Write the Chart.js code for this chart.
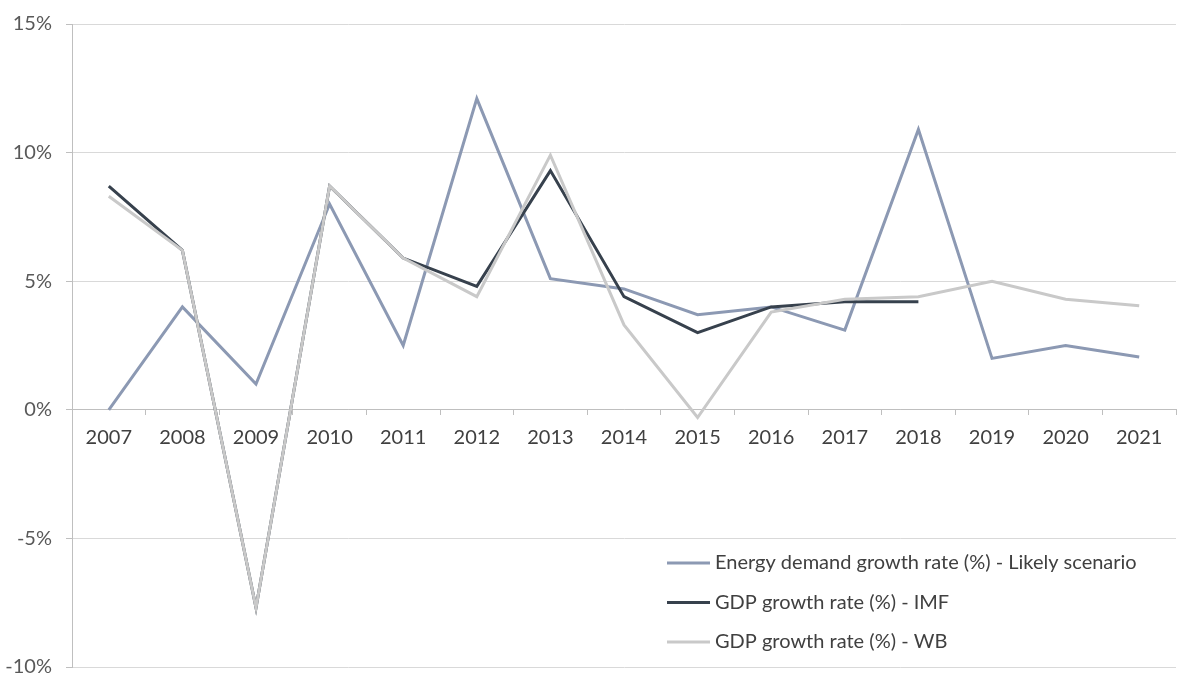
<!DOCTYPE html>
<html lang="en">
<head>
    <meta charset="UTF-8">
    <title>Energy demand vs GDP growth</title>
    <script src="https://cdn.jsdelivr.net/npm/chart.js"></script>
    <style>
        body { margin: 0; background: #ffffff; overflow: hidden; }
        .grafico { position: relative; width: 1182px; height: 691px; }
    </style>
</head>
<body>
    <div class="grafico">
        <canvas id="crescimentoChart"></canvas>
    </div>

    <script>
// === dados ===
const anos = ['2007', '2008', '2009', '2010', '2011', '2012', '2013', '2014', '2015', '2016', '2017', '2018', '2019', '2020', '2021'];
const energia = [0, 4.0, 1.0, 8.0, 2.5, 12.1, 5.1, 4.7, 3.7, 4.0, 3.1, 10.9, 2.0, 2.5, 2.05];
const pibFMI = [8.7, 6.2, -7.7, 8.7, 5.9, 4.8, 9.3, 4.4, 3.0, 4.0, 4.2, 4.2, null, null, null];
const pibBM = [8.3, 6.2, -7.7, 8.7, 5.9, 4.4, 9.9, 3.3, -0.3, 3.8, 4.3, 4.4, 5.0, 4.3, 4.05];
const yTicks = [-10, -5, 0, 5, 10, 15];

const fonte = 'Lato, "Open Sans", sans-serif';

// legenda dentro da área do gráfico, canto inferior direito
const legendaInterna = {
    id: 'legendaInterna',
    afterDraw(chart) {
        const ctx = chart.ctx;
        const area = chart.chartArea;
        const x0 = area.right - 516;
        const y0 = area.bottom - 124;
        ctx.save();
        ctx.fillStyle = '#ffffff';
        ctx.fillRect(x0, y0, 516, 122);
        ctx.font = '20px ' + fonte;
        ctx.textBaseline = 'middle';
        chart.data.datasets.forEach((ds, i) => {
            const y = y0 + 20 + i * 39.5;
            ctx.strokeStyle = ds.borderColor;
            ctx.lineWidth = 3;
            ctx.beginPath();
            ctx.moveTo(x0 + 7, y);
            ctx.lineTo(x0 + 50, y);
            ctx.stroke();
            ctx.fillStyle = '#404040';
            ctx.fillText(ds.label, x0 + 55, y);
        });
        ctx.restore();
    }
};

const ctx1 = document.getElementById('crescimentoChart').getContext('2d');
new Chart(ctx1, {
    type: 'line',
    data: {
        labels: anos,
        datasets: [
            {
                label: 'Energy demand growth rate (%) - Likely scenario',
                data: energia,
                borderColor: '#8c99b3',
                borderWidth: 3,
                order: 2
            },
            {
                label: 'GDP growth rate (%) - IMF',
                data: pibFMI,
                borderColor: '#37414d',
                borderWidth: 3,
                order: 1
            },
            {
                label: 'GDP growth rate (%) - WB',
                data: pibBM,
                borderColor: '#c9c9c9',
                borderWidth: 3,
                order: 0
            }
        ]
    },
    options: {
        responsive: true,
        maintainAspectRatio: false,
        animation: false,
        layout: { padding: { top: 14, right: 6, bottom: 0, left: 0 } },
        elements: {
            line: { tension: 0 },
            point: { radius: 0, hoverRadius: 0 }
        },
        scales: {
            x: {
                position: { y: 0 },
                offset: true,
                grid: {
                    offset: true,
                    drawOnChartArea: false,
                    drawTicks: true,
                    tickLength: 5,
                    color: '#bfbfbf'
                },
                border: { color: '#bfbfbf', width: 1 },
                ticks: {
                    color: '#404040',
                    padding: 11,
                    maxRotation: 0,
                    font: { family: fonte, size: 20 }
                }
            },
            y: {
                min: -10,
                max: 15,
                afterBuildTicks: (scale) => { scale.ticks = yTicks.map(v => ({ value: v })); },
                afterFit: (scale) => { scale.width = 72; },
                grid: {
                    color: '#d9d9d9',
                    tickLength: 6,
                    tickColor: '#bfbfbf'
                },
                border: { color: '#bfbfbf', width: 1 },
                ticks: {
                    color: '#595959',
                    padding: 14,
                    font: { family: fonte, size: 20, lineHeight: 1.0 },
                    callback: (v) => v + '%'
                }
            }
        },
        plugins: {
            legend: { display: false },
            tooltip: { enabled: false }
        }
    },
    plugins: [legendaInterna]
});
    </script>
</body>
</html>
